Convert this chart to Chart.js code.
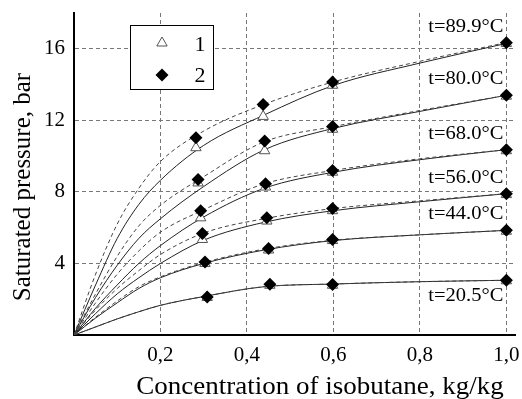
<!DOCTYPE html>
<html>
<head>
<meta charset="utf-8">
<script src="https://cdn.jsdelivr.net/npm/chart.js@4.4.0/dist/chart.umd.min.js"></script>
<style>
html, body { margin: 0; padding: 0; background: #fff; }
</style>
</head>
<body>
<canvas id="chart" width="522" height="399"></canvas>
<script>
// temperature of each isotherm
const tempLabels = ['t=89.9°C', 't=80.0°C', 't=68.0°C', 't=56.0°C', 't=44.0°C', 't=20.5°C'];

const curveX = [0, 0.05, 0.1, 0.15, 0.2, 0.3, 0.44, 0.6, 0.8, 1.0];

// solid curves (model 1)
const solidY = [
    [0, 2.8, 5.4, 7.3, 8.65, 10.6, 12.3, 13.95, 15.2, 16.3],
    [0, 2.1, 3.9, 5.4, 6.5, 8.3, 10.35, 11.55, 12.5, 13.4],
    [0, 1.5, 2.8, 4.0, 5.0, 6.6, 8.2, 9.1, 9.8, 10.36],
    [0, 1.2, 2.3, 3.2, 4.0, 5.3, 6.3, 6.95, 7.45, 7.9],
    [0, 0.95, 1.8, 2.6, 3.2, 4.0, 4.75, 5.28, 5.6, 5.85],
    [0, 0.45, 0.9, 1.3, 1.66, 2.15, 2.7, 2.85, 2.98, 3.06]
];

// dashed curves (model 2)
const dashedY = [
    [0, 3.4, 6.2, 8.2, 9.7, 11.4, 12.9, 14.15, 15.3, 16.35],
    [0, 2.3, 4.4, 6.1, 7.25, 8.85, 10.8, 11.65, 12.55, 13.4],
    [0, 1.8, 3.4, 4.7, 5.75, 7.0, 8.45, 9.2, 9.85, 10.36],
    [0, 1.4, 2.6, 3.6, 4.5, 5.7, 6.5, 7.07, 7.5, 7.9],
    [0, 1.0, 1.9, 2.7, 3.25, 4.05, 4.8, 5.3, 5.6, 5.85],
    [0, 0.45, 0.9, 1.3, 1.66, 2.15, 2.7, 2.85, 2.98, 3.06]
];

// experimental points: x positions, series 2 (diamonds), series 1 (triangles)
const pointX = [
    [0.282, 0.4375, 0.598, 1.0],
    [0.287, 0.441, 0.598, 1.0],
    [0.293, 0.443, 0.598, 1.0],
    [0.297, 0.446, 0.598, 1.0],
    [0.303, 0.45, 0.598, 1.0],
    [0.308, 0.453, 0.598, 1.0]
];
const diamondY = [
    [11.03, 12.89, 14.14, 16.34],
    [8.69, 10.85, 11.65, 13.4],
    [6.95, 8.46, 9.2, 10.36],
    [5.67, 6.56, 7.07, 7.9],
    [4.08, 4.83, 5.34, 5.85],
    [2.13, 2.84, 2.82, 3.06]
];
const triangleY = [
    [10.47, 12.22, 13.96, 16.3],
    [8.5, 10.3, 11.5, 13.35],
    [6.55, 8.27, 9.1, 10.3],
    [5.34, 6.37, 6.95, 7.85],
    [4.0, 4.75, 5.28, 5.8],
    [2.1, 2.78, 2.78, 3.03]
];

// tick values
const xTicks = [0.2, 0.4, 0.6, 0.8, 1.0];
const yTicks = [4, 8, 12, 16];

const serif = '"Liberation Serif", "Times New Roman", serif';

function toPoints(xs, ys) {
    return xs.map((x, i) => ({ x: x, y: ys[i] }));
}

const datasets = [];
// diamonds on top
diamondY.forEach((ys, i) => {
    datasets.push({
        data: toPoints(pointX[i], ys),
        pointStyle: 'rectRot',
        pointRadius: 6.5,
        backgroundColor: '#000',
        borderColor: '#000',
        borderWidth: 0,
        order: 0
    });
});
triangleY.forEach((ys, i) => {
    datasets.push({
        data: toPoints(pointX[i], ys),
        pointStyle: 'triangle',
        pointRadius: 6,
        backgroundColor: '#fff',
        borderColor: '#555',
        borderWidth: 1,
        order: 1
    });
});
dashedY.forEach(ys => {
    datasets.push({
        data: toPoints(curveX, ys),
        showLine: true,
        pointRadius: 0,
        borderColor: '#444',
        borderWidth: 1,
        borderDash: [4, 3],
        cubicInterpolationMode: 'monotone',
        order: 2
    });
});
solidY.forEach(ys => {
    datasets.push({
        data: toPoints(curveX, ys),
        showLine: true,
        pointRadius: 0,
        borderColor: '#222',
        borderWidth: 1,
        cubicInterpolationMode: 'monotone',
        order: 2
    });
});

// titles, isotherm labels and the boxed legend
const extrasPlugin = {
    id: 'extras',
    afterDraw(chart) {
        const ctx = chart.ctx;
        const xs = chart.scales.x;
        const ys = chart.scales.y;

        ctx.save();
        ctx.fillStyle = '#000';

        // isotherm labels at the right end of the curves
        ctx.font = '19px ' + serif;
        ctx.textBaseline = 'middle';
        ctx.textAlign = 'right';
        tempLabels.forEach((lab, i) => {
            const endY = ys.getPixelForValue(dashedY[i][dashedY[i].length - 1]);
            const py = i === tempLabels.length - 1 ? endY + 16 : endY - 16;
            const px = xs.getPixelForValue(1.0) - 3;
            ctx.save();
            ctx.translate(px, py);
            ctx.scale(1.08, 1);
            ctx.fillText(lab, 0, 0);
            ctx.restore();
        });

        // axis titles
        ctx.font = '25px ' + serif;
        ctx.textAlign = 'center';
        ctx.save();
        ctx.translate(320, 387);
        ctx.scale(1.08, 1);
        ctx.fillText('Concentration of isobutane, kg/kg', 0, 0);
        ctx.restore();

        ctx.save();
        ctx.translate(23, 187);
        ctx.rotate(-Math.PI / 2);
        ctx.fillText('Saturated pressure, bar', 0, 0);
        ctx.restore();

        // legend box
        ctx.fillStyle = '#fff';
        ctx.fillRect(130, 25, 83, 64);
        ctx.strokeStyle = '#000';
        ctx.lineWidth = 1;
        ctx.strokeRect(130.5, 25.5, 83, 64);

        ctx.fillStyle = '#fff';
        ctx.strokeStyle = '#555';
        ctx.beginPath();
        const r = 6;
        ctx.moveTo(162, 43 - r);
        ctx.lineTo(162 + r * 0.866, 43 + r * 0.5);
        ctx.lineTo(162 - r * 0.866, 43 + r * 0.5);
        ctx.closePath();
        ctx.fill();
        ctx.stroke();

        ctx.fillStyle = '#000';
        ctx.beginPath();
        ctx.moveTo(162, 75 - 6.5);
        ctx.lineTo(168.5, 75);
        ctx.lineTo(162, 81.5);
        ctx.lineTo(155.5, 75);
        ctx.closePath();
        ctx.fill();

        ctx.font = '22px ' + serif;
        ctx.textAlign = 'center';
        ctx.fillText('1', 200, 45);
        ctx.fillText('2', 200, 76);
        ctx.restore();
    }
};

const ctx = document.getElementById('chart').getContext('2d');
new Chart(ctx, {
    type: 'scatter',
    data: { datasets: datasets },
    options: {
        responsive: false,
        devicePixelRatio: 1,
        animation: false,
        layout: { padding: { left: 0, top: 13, right: 0, bottom: 0 } },
        plugins: {
            legend: { display: false },
            tooltip: { enabled: false }
        },
        scales: {
            x: {
                type: 'linear',
                min: 0,
                max: 1.02,
                afterBuildTicks: axis => { axis.ticks = xTicks.map(v => ({ value: v })); },
                afterFit: axis => {
                    axis.height = 64;
                    axis.paddingLeft = 0;
                    axis.paddingRight = 0;
                },
                ticks: {
                    color: '#000',
                    font: { family: serif, size: 21 },
                    padding: 8,
                    maxRotation: 0,
                    callback: v => v.toFixed(1).replace('.', ',')
                },
                grid: { color: '#777', lineWidth: 1, drawTicks: false },
                border: { display: true, color: '#000', width: 2, dash: [4, 3] }
            },
            y: {
                type: 'linear',
                min: 0,
                max: 18,
                afterBuildTicks: axis => { axis.ticks = yTicks.map(v => ({ value: v })); },
                afterFit: axis => {
                    axis.width = 74;
                    axis.paddingTop = 0;
                    axis.paddingBottom = 0;
                },
                ticks: {
                    color: '#000',
                    font: { family: serif, size: 21 },
                    padding: 9,
                    callback: v => String(v)
                },
                grid: { color: '#777', lineWidth: 1, drawTicks: false },
                border: { display: true, color: '#000', width: 2, dash: [4, 3] }
            }
        }
    },
    plugins: [extrasPlugin]
});
</script>
</body>
</html>
